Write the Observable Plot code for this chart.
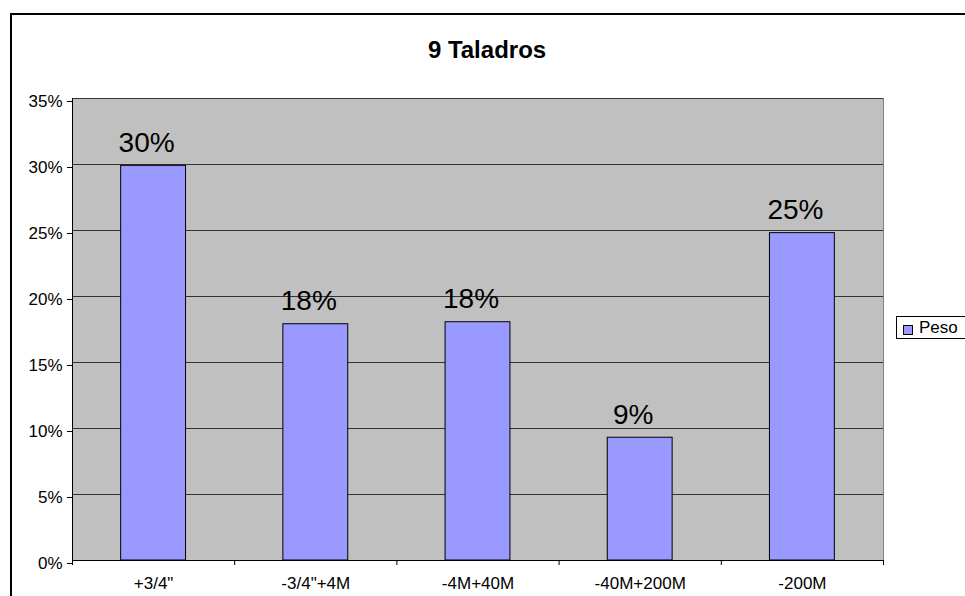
<!DOCTYPE html>
<html>
<head>
<meta charset="utf-8">
<script src="https://cdn.jsdelivr.net/npm/d3@7"></script>
<script src="https://cdn.jsdelivr.net/npm/@observablehq/plot@0.6"></script>
<style>
  html, body { margin: 0; padding: 0; background: #fff; }
  #wrap { position: relative; width: 965px; height: 596px; overflow: hidden; background: #fff;
          font-family: "Liberation Sans", Arial, sans-serif; }
  #border { position: absolute; left: 10px; top: 13px; width: 1200px; height: 1200px;
            border: 2px solid #000; box-sizing: border-box; pointer-events: none; }
  #legend { position: absolute; left: 896px; top: 316px; width: 120px; height: 23px;
            border: 1px solid #000; box-sizing: border-box; background: #fff;
            font-size: 17px; line-height: 21px; color: #000; }
  #legend .sw { position: absolute; left: 6px; top: 8px; width: 8px; height: 8px;
                background: #9999ff; border: 1px solid #000; }
  #legend .lb { position: absolute; left: 22px; top: 0px; }
</style>
</head>
<body>
<div id="wrap"></div>
<script>
const title = "9 Taladros";
const seriesName = "Peso";
const categories = ['+3/4"', '-3/4"+4M', '-4M+40M', '-40M+200M', '-200M'];
const values = [29.9, 17.9, 18.05, 9.3, 24.8];
const yTicks = [0, 5, 10, 15, 20, 25, 30, 35];

const data = categories.map((c, i) => ({cat: c, i, value: values[i]}));
const boundaries = d3.range(categories.length + 1);
const centers = categories.map((c, i) => i + 0.5);

const font = '"Liberation Sans", Arial, sans-serif';

const chart = Plot.plot({
  width: 965,
  height: 596,
  marginLeft: 72,
  marginRight: 82,
  marginTop: 98,
  marginBottom: 36,
  style: {fontFamily: font, background: "transparent", color: "#000", overflow: "visible"},
  x: {domain: [0, categories.length], axis: null, label: null},
  y: {domain: [0, 35], axis: null, label: null},
  marks: [
    Plot.frame({fill: "#c0c0c0", stroke: "#808080"}),
    Plot.ruleY(yTicks.slice(1), {stroke: "#333", strokeWidth: 1}),
    Plot.rectY(data, {
      x1: d => d.i + 0.3, x2: d => d.i + 0.7, y: "value",
      fill: "#9999ff", stroke: "#000", strokeWidth: 1
    }),
    Plot.ruleX([0], {stroke: "#000"}),
    Plot.ruleY([0], {stroke: "#000"}),
    Plot.axisY({ticks: yTicks, tickFormat: d => d + "%", tickSize: 5, tickPadding: 5,
                fontSize: 17, dy: 3, stroke: "#000", strokeOpacity: 1, label: null}),
    Plot.axisX({ticks: boundaries, tickFormat: () => "", tickSize: 5, stroke: "#000",
                strokeOpacity: 1, label: null}),
    Plot.axisX({ticks: centers, tickFormat: d => categories[Math.floor(d)], tickSize: 0,
                tickPadding: 16, fontSize: 17, label: null}),
    Plot.text(data, {
      x: d => d.i + 0.5, y: "value", text: d => Math.round(d.value) + "%",
      lineAnchor: "bottom", dy: -14, dx: -7, fontSize: 28, fill: "#000"
    }),
    Plot.text([title], {
      frameAnchor: "top", lineAnchor: "bottom", dy: -41, dx: 9,
      fontSize: 24, fontWeight: "bold", fill: "#000"
    })
  ]
});

const wrap = document.getElementById("wrap");
chart.style.position = "absolute";
chart.style.left = "0px";
chart.style.top = "0px";
wrap.appendChild(chart);

const border = document.createElement("div");
border.id = "border";
wrap.appendChild(border);

const legend = document.createElement("div");
legend.id = "legend";
const sw = document.createElement("div");
sw.className = "sw";
const lb = document.createElement("div");
lb.className = "lb";
lb.textContent = seriesName;
legend.appendChild(sw);
legend.appendChild(lb);
wrap.appendChild(legend);
</script>
</body>
</html>
